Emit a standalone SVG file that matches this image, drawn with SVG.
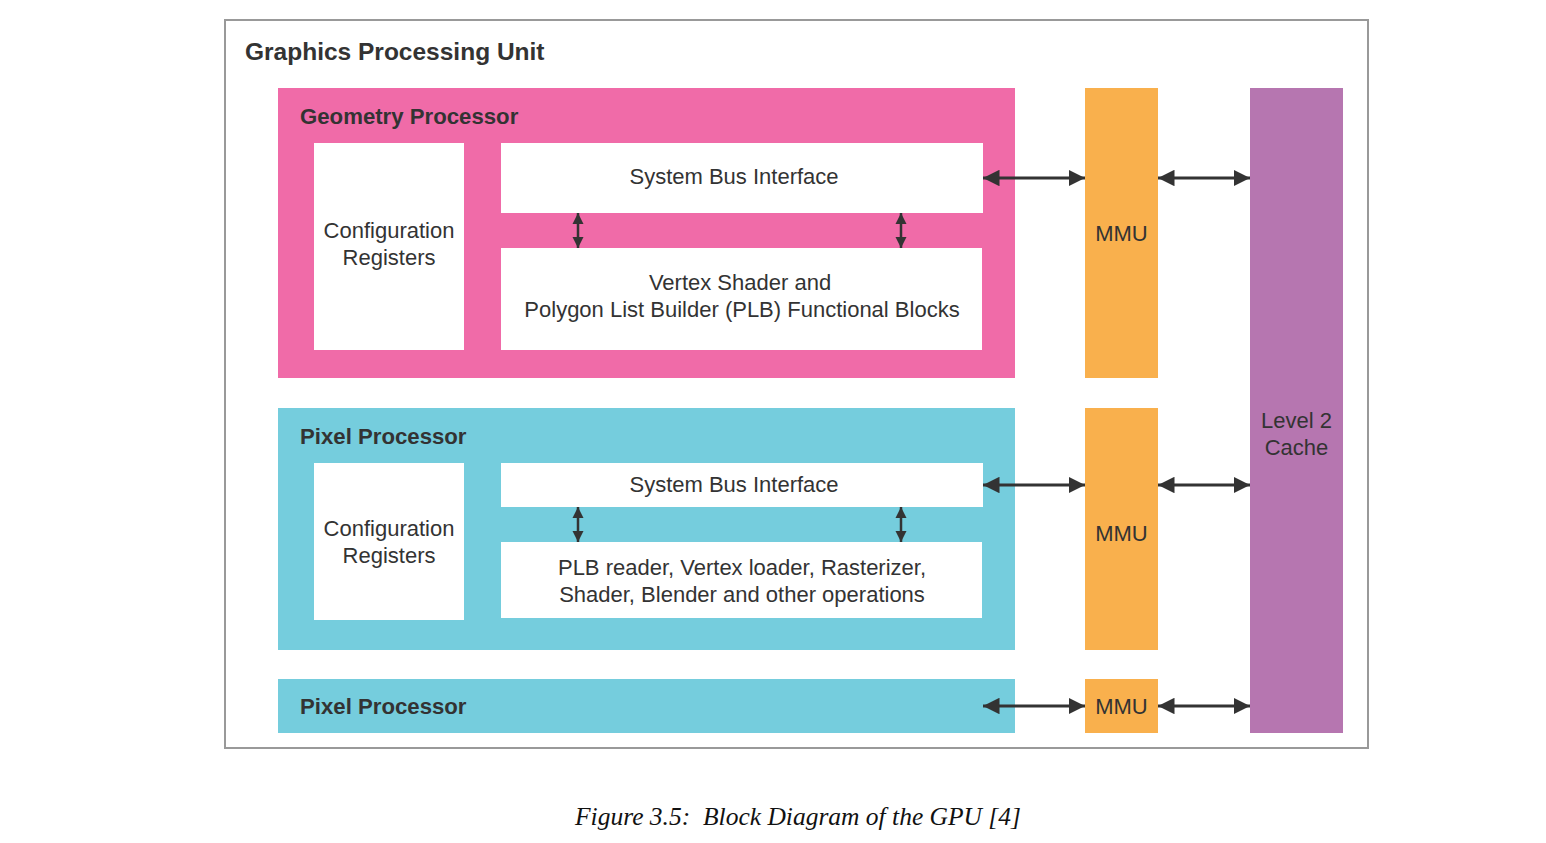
<svg xmlns="http://www.w3.org/2000/svg" width="1546" height="843" viewBox="0 0 1546 843">
<defs>
<marker id="ah" viewBox="0 0 10 10" refX="10" refY="5" markerWidth="5.5" markerHeight="5.5" orient="auto-start-reverse" markerUnits="strokeWidth">
<path d="M0,0 L10,5 L0,10 z" fill="#333"/>
</marker>
<marker id="ahs" viewBox="0 0 10 10" refX="10" refY="5" markerWidth="4.5" markerHeight="4.5" orient="auto-start-reverse" markerUnits="strokeWidth">
<path d="M0,0 L10,5 L0,10 z" fill="#333"/>
</marker>
<style>
.t{font-family:"Liberation Sans",Arial,sans-serif;fill:#333;font-size:22px}
.b{font-family:"Liberation Sans",Arial,sans-serif;fill:#333;font-weight:bold;font-size:22.2px}
.c{text-anchor:middle}
.w{fill:#fff}
.pk{fill:#F06BA8}
.cy{fill:#75CDDD}
.or{fill:#F9B04D}
.pu{fill:#B676B0}
.ar{stroke:#333;stroke-width:3;fill:none;marker-start:url(#ah);marker-end:url(#ah)}
.av{stroke:#333;stroke-width:2.5;fill:none;marker-start:url(#ahs);marker-end:url(#ahs)}
</style>
</defs>
<rect width="1546" height="843" fill="#fff"/>
<g id="gpu">
<rect x="225" y="20" width="1143" height="728" fill="#fff" stroke="#999" stroke-width="2"/>
<text class="b" x="245" y="60" style="font-size:24.5px">Graphics Processing Unit</text>
</g>
<g id="geometry">
<rect class="pk" x="278" y="88" width="737" height="290"/>
<text class="b" x="300" y="124">Geometry Processor</text>
</g>
<g id="config1">
<rect class="w" x="314" y="143" width="150" height="207"/>
<text class="t c" x="389" y="238">Configuration</text>
<text class="t c" x="389" y="265">Registers</text>
</g>
<g id="sbi1">
<rect class="w" x="501" y="143" width="482" height="70"/>
<text class="t c" x="734" y="184">System Bus Interface</text>
</g>
<g id="vertex">
<rect class="w" x="501" y="248" width="481" height="102"/>
<text class="t c" x="740" y="290">Vertex Shader and</text>
<text class="t c" x="742" y="317">Polygon List Builder (PLB) Functional Blocks</text>
</g>
<g id="pixel1">
<rect class="cy" x="278" y="408" width="737" height="242"/>
<text class="b" x="300" y="444">Pixel Processor</text>
</g>
<g id="config2">
<rect class="w" x="314" y="463" width="150" height="157"/>
<text class="t c" x="389" y="536">Configuration</text>
<text class="t c" x="389" y="563">Registers</text>
</g>
<g id="sbi2">
<rect class="w" x="501" y="463" width="482" height="44"/>
<text class="t c" x="734" y="492">System Bus Interface</text>
</g>
<g id="plb">
<rect class="w" x="501" y="542" width="481" height="76"/>
<text class="t c" x="742" y="575">PLB reader, Vertex loader, Rasterizer,</text>
<text class="t c" x="742" y="602">Shader, Blender and other operations</text>
</g>
<g id="pixel2">
<rect class="cy" x="278" y="679" width="737" height="54"/>
<text class="b" x="300" y="714">Pixel Processor</text>
</g>
<g id="mmu1">
<rect class="or" x="1085" y="88" width="73" height="290"/>
<text class="t c" x="1121.5" y="241">MMU</text>
</g>
<g id="mmu2">
<rect class="or" x="1085" y="408" width="73" height="242"/>
<text class="t c" x="1121.5" y="541">MMU</text>
</g>
<g id="mmu3">
<rect class="or" x="1085" y="679" width="73" height="54"/>
<text class="t c" x="1121.5" y="714">MMU</text>
</g>
<g id="l2">
<rect class="pu" x="1250" y="88" width="93" height="645"/>
<text class="t c" x="1296.5" y="428">Level 2</text>
<text class="t c" x="1296.5" y="455">Cache</text>
</g>
<g id="connectors">
<line class="ar" x1="983" y1="178" x2="1085" y2="178"/>
<line class="ar" x1="1158" y1="178" x2="1250" y2="178"/>
<line class="av" x1="578" y1="213" x2="578" y2="248"/>
<line class="av" x1="901" y1="213" x2="901" y2="248"/>
<line class="ar" x1="983" y1="485" x2="1085" y2="485"/>
<line class="ar" x1="1158" y1="485" x2="1250" y2="485"/>
<line class="av" x1="578" y1="507" x2="578" y2="542"/>
<line class="av" x1="901" y1="507" x2="901" y2="542"/>
<line class="ar" x1="983" y1="706" x2="1085" y2="706"/>
<line class="ar" x1="1158" y1="706" x2="1250" y2="706"/>
</g>
<text x="798" y="825" text-anchor="middle" font-family="'Liberation Serif','Times New Roman',serif" font-style="italic" font-size="25.5" fill="#111" xml:space="preserve">Figure 3.5:  Block Diagram of the GPU [4]</text>
</svg>
